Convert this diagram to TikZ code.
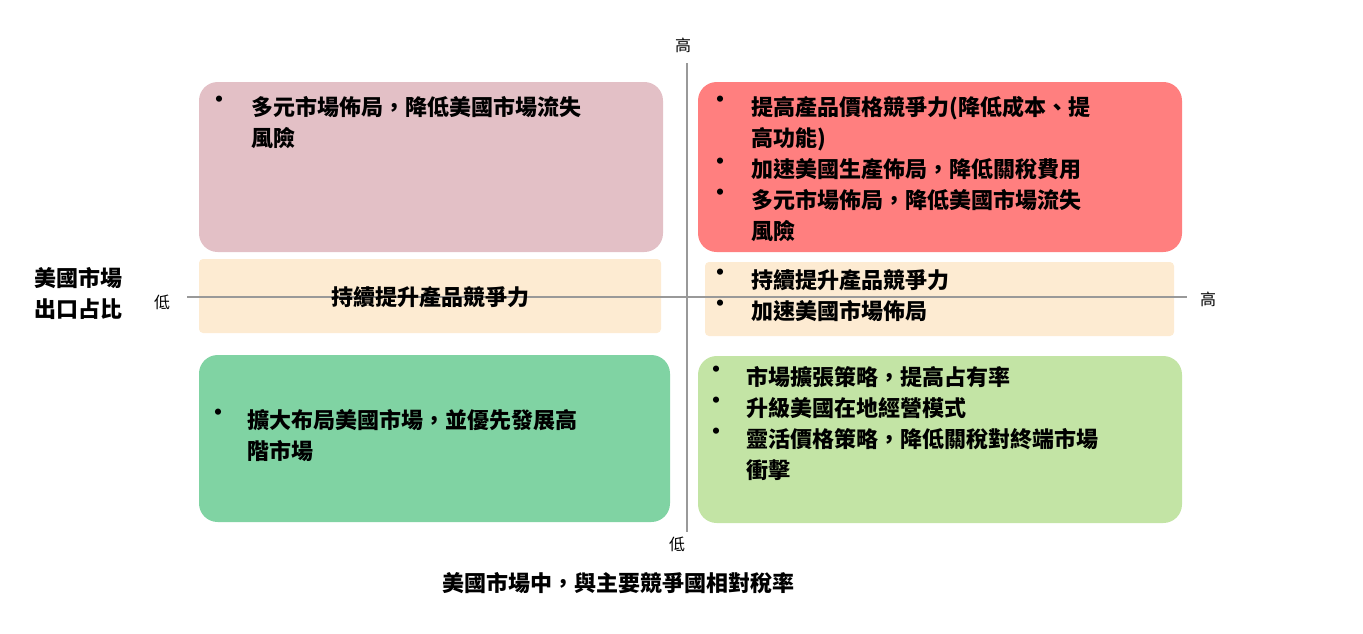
\documentclass[tikz,border=0pt]{standalone}
\usepackage{fontspec}
\setmainfont{Noto Sans CJK TC}
\definecolor{boxpink}{HTML}{E3C0C6}
\definecolor{boxred}{HTML}{FF7F7F}
\definecolor{boxcream}{HTML}{FDEBD2}
\definecolor{boxgreen}{HTML}{80D3A3}
\definecolor{boxlime}{HTML}{C3E4A5}
\tikzset{
  quad/.style={rounded corners=14pt, draw=none},
  item/.style={anchor=north west, inner sep=0pt, align=left, font=\fontsize{16.5}{23.25}\selectfont\bfseries},
  dot/.style={anchor=north, inner sep=0pt, font=\fontsize{16.5}{23.25}\selectfont\bfseries},
  tick/.style={font=\fontsize{12}{14}\selectfont, inner sep=0pt}
}
\begin{document}
\begin{tikzpicture}[x=0.75pt, y=-0.75pt]
    \useasboundingbox (0,0) rectangle (1363,633);

    \fill[boxpink, quad] (199,82) rectangle (663,252);
    \fill[boxred, quad] (698,82) rectangle (1182,252);
    \fill[boxcream, rounded corners=3pt] (199,259) rectangle (661,333);
    \fill[boxcream, rounded corners=3pt] (705,262) rectangle (1174,336);
    \fill[boxgreen, quad] (199,355) rectangle (670,522);
    \fill[boxlime, quad] (698,356) rectangle (1182,523);

    \coordinate (west) at (187,297);
    \coordinate (east) at (1187,297);
    \coordinate (north) at (687,63);
    \coordinate (south) at (687,532);
    \draw[gray!80, line width=0.8pt] (west) -- (east);
    \draw[gray!80, line width=0.8pt] (north) -- (south);

    \node[tick] (yhigh) at (683,45) {高};
    \node[tick] (ylow) at (677,544) {低};
    \node[tick] (xlow) at (162,302) {低};
    \node[tick] (xhigh) at (1208,299) {高};

    \node[align=left, font=\fontsize{16.5}{23.25}\selectfont\bfseries] (ylabel) at (78,293) {美國市場\\出口占比};
    \node[font=\fontsize{16.5}{23.25}\selectfont\bfseries] (xlabel) at (618,583) {美國市場中，與主要競爭國相對稅率};

    % top left
    \node[dot] (tl1b) at (219,96) {•};
    \node[item] (tl1) at (251,96) {多元市場佈局，降低美國市場流失\\風險};

    % top right
    \node[dot] (tr1b) at (720,96) {•};
    \node[item] (tr1) at (751,96) {提高產品價格競爭力(降低成本、提\\高功能)};
    \node[dot] (tr2b) at (720,158) {•};
    \node[item] (tr2) at (751,158) {加速美國生產佈局，降低關稅費用};
    \node[dot] (tr3b) at (720,189) {•};
    \node[item] (tr3) at (751,189) {多元市場佈局，降低美國市場流失\\風險};

    % middle
    \node[font=\fontsize{16.5}{23.25}\selectfont\bfseries] (ml) at (430,297) {持續提升產品競爭力};
    \node[dot] (mr1b) at (720,269) {•};
    \node[item] (mr1) at (751,269) {持續提升產品競爭力};
    \node[dot] (mr2b) at (720,300) {•};
    \node[item] (mr2) at (751,300) {加速美國市場佈局};

    % bottom left
    \node[dot] (bl1b) at (218,409) {•};
    \node[item] (bl1) at (247,409) {擴大布局美國市場，並優先發展高\\階市場};

    % bottom right
    \node[dot] (br1b) at (716,366) {•};
    \node[item] (br1) at (746,366) {市場擴張策略，提高占有率};
    \node[dot] (br2b) at (716,397) {•};
    \node[item] (br2) at (746,397) {升級美國在地經營模式};
    \node[dot] (br3b) at (716,428) {•};
    \node[item] (br3) at (746,428) {靈活價格策略，降低關稅對終端市場\\衝擊};
\end{tikzpicture}
\end{document}
